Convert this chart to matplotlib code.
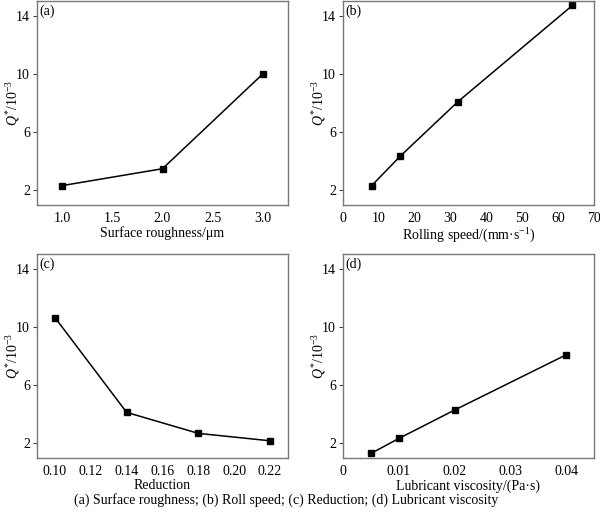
import matplotlib
matplotlib.use("Agg")
import matplotlib.pyplot as plt

plt.rcParams['font.family'] = ['Liberation Serif', 'DejaVu Serif']
plt.rcParams['mathtext.fontset'] = 'custom'
plt.rcParams['mathtext.rm'] = 'Liberation Serif'
plt.rcParams['mathtext.it'] = 'Liberation Serif:italic'

# Data
a_x = [1.0, 2.0, 3.0]
a_y = [2.33, 3.49, 10.0]
b_x = [8, 16, 32, 64]
b_y = [2.33, 4.36, 8.08, 14.7]
c_x = [0.10, 0.14, 0.18, 0.22]
c_y = [10.64, 4.13, 2.69, 2.18]
d_x = [0.005, 0.01, 0.02, 0.04]
d_y = [1.31, 2.34, 4.29, 8.08]

xlabels = ['Surface roughness/μm', 'Rolling speed/(mm·s$^{-1}$)', 'Reduction', 'Lubricant viscosity/(Pa·s)']
panel_tags = ['(a)', '(b)', '(c)', '(d)']
ylabel = '$Q^{*}$/10$^{-3}$'
caption = '(a) Surface roughness; (b) Roll speed; (c) Reduction; (d) Lubricant viscosity'

xlims = [(0.75, 3.25), (0, 70), (0.09, 0.23), (0, 0.045)]
xticks = [[1.0, 1.5, 2.0, 2.5, 3.0], [0, 10, 20, 30, 40, 50, 60, 70],
          [0.10, 0.12, 0.14, 0.16, 0.18, 0.20, 0.22], [0, 0.01, 0.02, 0.03, 0.04]]
xticklabels = [['1.0', '1.5', '2.0', '2.5', '3.0'],
               ['0', '10', '20', '30', '40', '50', '60', '70'],
               ['0.10', '0.12', '0.14', '0.16', '0.18', '0.20', '0.22'],
               ['0', '0.01', '0.02', '0.03', '0.04']]
yticks = [2, 6, 10, 14]

fig = plt.figure(figsize=(6.0, 5.14), dpi=100)
W, H = 600, 514
rects = [(37, 1, 251, 204), (343, 1, 251, 204), (37, 254, 251, 204), (343, 254, 251, 204)]
data = [(a_x, a_y), (b_x, b_y), (c_x, c_y), (d_x, d_y)]
fs = 10
for i, (l, t, w, h) in enumerate(rects):
    ax = fig.add_axes([l / W, (H - t - h) / H, w / W, h / H])
    x, y = data[i]
    ax.plot(x, y, color='black', lw=1.1, marker='s', ms=3.8, mfc='black', mec='black')
    ax.set_xlim(*xlims[i])
    ax.set_ylim(1, 15)
    ax.set_xticks(xticks[i])
    ax.set_xticklabels(xticklabels[i])
    ax.set_yticks(yticks)
    ax.tick_params(axis='y', direction='out', length=3, width=0.8, color='#444444', labelsize=fs, pad=2)
    ax.tick_params(axis='x', length=0, labelsize=fs, pad=5)
    for s in ax.spines.values():
        s.set_color('#777777')
        s.set_linewidth(1.0)
    ax.set_xlabel(xlabels[i], fontsize=fs, labelpad=1)
    ax.set_ylabel(ylabel, fontsize=fs)
    ax.yaxis.label.set_va('center')
    ax.yaxis.set_label_coords(-24 / w, 0.5)
    ax.text(0.01, 0.985, panel_tags[i], transform=ax.transAxes, fontsize=fs, va='top', ha='left')

fig.text(286 / W, 1 - 500 / H, caption, fontsize=fs, ha='center', va='center')
fig.savefig('out.png', dpi=100)
